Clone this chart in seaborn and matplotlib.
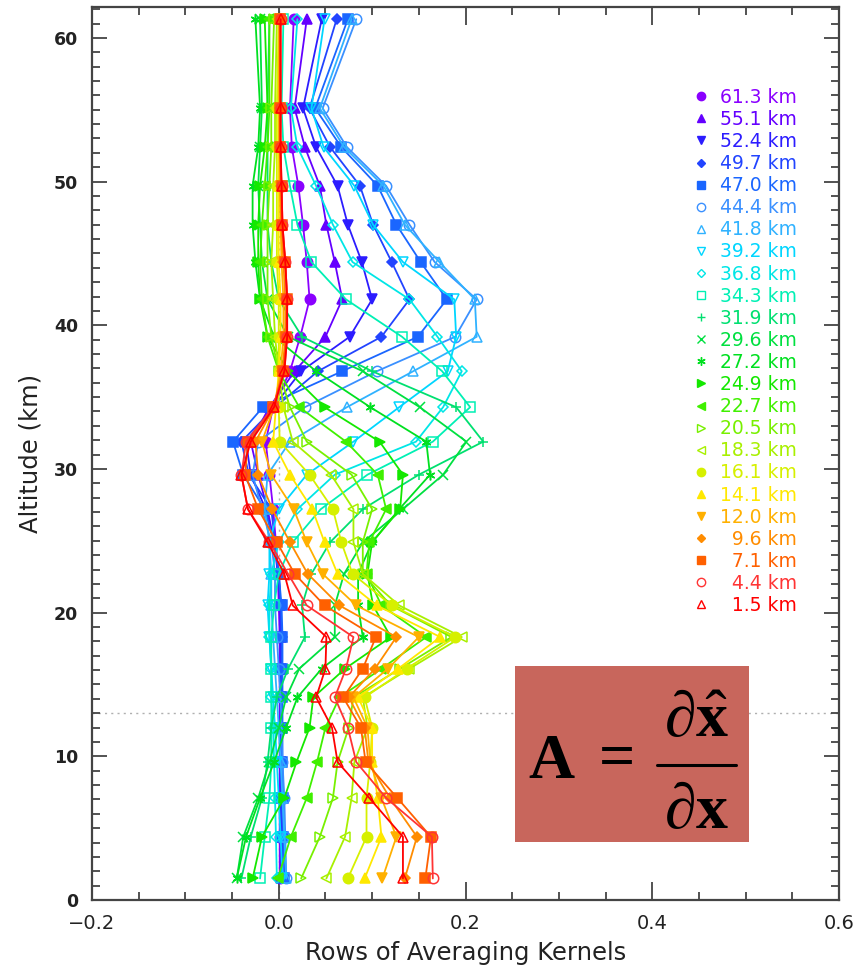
import matplotlib
matplotlib.use("Agg")
import matplotlib.pyplot as plt
from matplotlib import font_manager
from matplotlib.lines import Line2D
from matplotlib.patches import Rectangle
import seaborn as sns
import pandas as pd

# Retrieval levels (km), top to bottom
levels = [61.3, 55.1, 52.4, 49.7, 47.0, 44.4, 41.8, 39.2, 36.8, 34.3, 31.9, 29.6,
          27.2, 24.9, 22.7, 20.5, 18.3, 16.1, 14.1, 12.0, 9.6, 7.1, 4.4, 1.5]

# Rows of the averaging-kernel matrix, one per nominal altitude
k61_3 = [0.016, 0.012, 0.014, 0.021, 0.026, 0.030, 0.033, 0.023, 0.012, -0.006, -0.014, -0.010,
         -0.006, -0.003, -0.001, 0.000, 0.001, 0.001, 0.001, 0.001, 0.001, 0.001, 0.001, 0.001]
k55_1 = [0.030, 0.017, 0.028, 0.044, 0.051, 0.060, 0.068, 0.050, 0.017, -0.010, -0.030, -0.022,
         -0.012, -0.005, -0.001, 0.001, 0.002, 0.002, 0.002, 0.002, 0.002, 0.002, 0.002, 0.002]
k52_4 = [0.046, 0.026, 0.040, 0.063, 0.074, 0.089, 0.100, 0.076, 0.024, -0.006, -0.035, -0.030,
         -0.014, -0.005, 0.000, 0.002, 0.002, 0.002, 0.002, 0.002, 0.002, 0.002, 0.003, 0.003]
k49_7 = [0.062, 0.033, 0.055, 0.087, 0.101, 0.121, 0.140, 0.110, 0.042, -0.004, -0.040, -0.032,
         -0.008, -0.004, 0.000, 0.002, 0.003, 0.003, 0.003, 0.003, 0.003, 0.003, 0.004, 0.004]
k47_0 = [0.074, 0.039, 0.067, 0.106, 0.126, 0.152, 0.180, 0.149, 0.068, -0.017, -0.049, -0.038,
         -0.015, -0.005, 0.000, 0.003, 0.004, 0.004, 0.004, 0.004, 0.004, 0.005, 0.005, 0.006]
k44_4 = [0.083, 0.047, 0.073, 0.115, 0.140, 0.167, 0.212, 0.189, 0.105, 0.028, -0.022, -0.028,
         -0.018, -0.008, -0.004, -0.004, -0.002, 0.000, 0.002, 0.003, 0.004, 0.006, 0.007, 0.008]
k41_8 = [0.078, 0.044, 0.070, 0.112, 0.135, 0.172, 0.210, 0.212, 0.144, 0.073, 0.012, -0.012,
         -0.015, -0.010, -0.008, -0.008, -0.006, -0.004, -0.002, 0.000, 0.002, 0.004, 0.006, 0.008]
k39_2 = [0.049, 0.035, 0.048, 0.081, 0.101, 0.133, 0.188, 0.190, 0.181, 0.129, 0.080, 0.030,
         0.000, -0.010, -0.010, -0.012, -0.010, -0.008, -0.006, -0.004, -0.002, 0.000, 0.002, 0.004]
k36_8 = [0.020, 0.013, 0.020, 0.040, 0.058, 0.079, 0.140, 0.170, 0.196, 0.176, 0.147, 0.060,
         0.020, 0.000, -0.008, -0.010, -0.010, -0.008, -0.008, -0.006, -0.005, -0.004, -0.003, -0.002]
k34_3 = [0.005, 0.003, 0.005, 0.012, 0.020, 0.035, 0.072, 0.132, 0.175, 0.205, 0.165, 0.095,
         0.045, 0.015, 0.000, -0.005, -0.008, -0.008, -0.008, -0.008, -0.008, -0.010, -0.015, -0.020]
k31_9 = [-0.010, -0.012, -0.012, -0.012, -0.012, -0.008, 0.000, 0.025, 0.100, 0.190, 0.219, 0.150,
         0.090, 0.055, 0.035, 0.025, 0.028, 0.010, -0.002, -0.008, -0.012, -0.018, -0.030, -0.040]
k29_6 = [-0.020, -0.018, -0.020, -0.022, -0.020, -0.018, -0.012, 0.010, 0.090, 0.151, 0.201, 0.176,
         0.133, 0.090, 0.070, 0.060, 0.060, 0.022, 0.008, 0.000, -0.010, -0.022, -0.038, -0.045]
k27_2 = [-0.025, -0.020, -0.022, -0.028, -0.028, -0.025, -0.020, -0.005, 0.040, 0.098, 0.158, 0.162,
         0.129, 0.100, 0.085, 0.085, 0.090, 0.046, 0.020, 0.008, -0.005, -0.020, -0.035, -0.045]
k24_9 = [-0.015, -0.012, -0.015, -0.020, -0.022, -0.022, -0.020, -0.012, 0.010, 0.049, 0.108, 0.133,
         0.130, 0.100, 0.095, 0.101, 0.120, 0.071, 0.037, 0.033, 0.019, 0.006, -0.018, -0.028]
k22_7 = [-0.010, -0.010, -0.012, -0.015, -0.018, -0.020, -0.018, -0.012, 0.000, 0.022, 0.072, 0.106,
         0.115, 0.097, 0.094, 0.110, 0.158, 0.110, 0.065, 0.050, 0.041, 0.030, 0.013, -0.001]
k20_5 = [-0.005, -0.008, -0.008, -0.010, -0.012, -0.012, -0.012, -0.008, 0.000, 0.012, 0.030, 0.078,
         0.100, 0.090, 0.090, 0.120, 0.185, 0.130, 0.080, 0.075, 0.063, 0.058, 0.044, 0.024]
k18_3 = [-0.002, -0.004, -0.004, -0.006, -0.006, -0.008, -0.006, -0.004, 0.000, 0.005, 0.015, 0.056,
         0.080, 0.080, 0.090, 0.129, 0.196, 0.140, 0.090, 0.095, 0.081, 0.078, 0.071, 0.051]
k16_1 = [0.000, -0.002, -0.002, -0.002, -0.002, -0.002, 0.000, 0.000, 0.000, 0.000, 0.001, 0.033,
         0.058, 0.067, 0.079, 0.121, 0.189, 0.137, 0.092, 0.100, 0.098, 0.094, 0.094, 0.074]
k14_1 = [0.000, 0.000, 0.000, 0.000, 0.000, 0.000, 0.002, 0.002, 0.000, -0.003, -0.006, 0.012,
         0.036, 0.049, 0.063, 0.105, 0.173, 0.128, 0.085, 0.100, 0.100, 0.106, 0.110, 0.092]
k12_0 = [0.001, 0.001, 0.001, 0.001, 0.002, 0.003, 0.005, 0.005, 0.002, -0.005, -0.018, -0.008,
         0.016, 0.030, 0.047, 0.083, 0.150, 0.117, 0.080, 0.095, 0.098, 0.110, 0.126, 0.111]
k9_6 = [0.001, 0.001, 0.001, 0.002, 0.003, 0.005, 0.007, 0.007, 0.004, -0.005, -0.025, -0.022,
        -0.007, 0.012, 0.031, 0.065, 0.126, 0.103, 0.075, 0.092, 0.096, 0.119, 0.148, 0.135]
k7_1 = [0.001, 0.001, 0.001, 0.003, 0.003, 0.007, 0.009, 0.008, 0.005, -0.006, -0.033, -0.036,
        -0.022, -0.002, 0.017, 0.049, 0.104, 0.090, 0.069, 0.088, 0.093, 0.127, 0.163, 0.157]
k4_4 = [0.002, 0.002, 0.002, 0.003, 0.004, 0.007, 0.009, 0.009, 0.006, -0.006, -0.035, -0.040,
        -0.033, -0.010, 0.010, 0.030, 0.080, 0.072, 0.060, 0.074, 0.083, 0.115, 0.164, 0.165]
k1_5 = [0.002, 0.002, 0.002, 0.003, 0.004, 0.007, 0.009, 0.009, 0.006, -0.005, -0.030, -0.040,
        -0.033, -0.012, 0.006, 0.015, 0.051, 0.050, 0.040, 0.057, 0.063, 0.097, 0.133, 0.133]

kernel_rows = [k61_3, k55_1, k52_4, k49_7, k47_0, k44_4, k41_8, k39_2, k36_8, k34_3, k31_9, k29_6,
               k27_2, k24_9, k22_7, k20_5, k18_3, k16_1, k14_1, k12_0, k9_6, k7_1, k4_4, k1_5]

row_labels = ["61.3 km", "55.1 km", "52.4 km", "49.7 km", "47.0 km", "44.4 km", "41.8 km",
              "39.2 km", "36.8 km", "34.3 km", "31.9 km", "29.6 km", "27.2 km", "24.9 km",
              "22.7 km", "20.5 km", "18.3 km", "16.1 km", "14.1 km", "12.0 km", "9.6 km",
              "7.1 km", "4.4 km", "1.5 km"]

row_colors = ["#8a00ff", "#6400ff", "#2c1cff", "#2244ff", "#1a66ff", "#3a90ff", "#30b2ff",
              "#00d6ff", "#00e6e6", "#00f0b4", "#00e070", "#00e040", "#00e020", "#14e800",
              "#40f000", "#78f000", "#a8f000", "#d6f000", "#ffe800", "#ffb000", "#ff8c00",
              "#ff6000", "#ff3434", "#ff0000"]

# IDL-style plotting symbols: (marker, filled)
asterisk = (6, 2, 0)
row_markers = [("o", True), ("^", True), ("v", True), ("D", True), ("s", True),
               ("o", False), ("^", False), ("v", False), ("D", False), ("s", False),
               ("+", True), ("x", True), (asterisk, True), (">", True), ("<", True),
               (">", False), ("<", False), ("o", True), ("^", True), ("v", True),
               ("D", True), ("s", True), ("o", False), ("^", False)]

installed = {f.name for f in font_manager.fontManager.ttflist}
narrow = "Liberation Sans Narrow" if "Liberation Sans Narrow" in installed else "DejaVu Sans"
serif = "Liberation Serif" if "Liberation Serif" in installed else "DejaVu Serif"

sns.set_theme(style="ticks")
plt.rcParams["font.family"] = ["DejaVu Sans"]
plt.rcParams["mathtext.fontset"] = "custom"
plt.rcParams["mathtext.rm"] = serif
plt.rcParams["mathtext.bf"] = serif + ":bold"
plt.rcParams["mathtext.it"] = serif + ":italic"

fig = plt.figure(figsize=(8.57, 9.68), dpi=100)
ax = fig.add_axes([92 / 857, 1 - 900 / 968, (839 - 92) / 857, (900 - 7) / 968])

ax.axhline(13.0, color="#b0b0b0", lw=1.0, ls=(0, (1.5, 3)), zorder=0.5)
ax.axvline(0.0, color="#b0b0b0", lw=1.0, ls=(0, (1.5, 3)), zorder=0.5)

for vals, col, (mk, filled) in zip(kernel_rows, row_colors, row_markers):
    df = pd.DataFrame({"value": vals, "alt": levels})
    sz = 7.5 if mk in ("s", "o") else 7
    if mk == "D":
        sz = 5.5
    sns.lineplot(data=df, x="value", y="alt", sort=False, estimator=None, ax=ax,
                 color=col, lw=1.3, marker=mk, markersize=sz,
                 markerfacecolor=col if filled else "none",
                 markeredgecolor=col, markeredgewidth=1.1)

ax.set_xlim(-0.2, 0.6)
ax.set_ylim(0, 62.15)
ax.set_xticks([-0.2, 0.0, 0.2, 0.4, 0.6])
ax.set_xticklabels(["\u22120.2", "0.0", "0.2", "0.4", "0.6"])
ax.set_yticks([0, 10, 20, 30, 40, 50, 60])
ax.set_xticks([x / 100 for x in range(-20, 61, 5)], minor=True)
ax.set_yticks(list(range(0, 63)), minor=True)
ax.tick_params(which="both", direction="in", top=True, right=True, color="#444444", width=1.3)
ax.tick_params(which="major", length=13)
ax.tick_params(which="minor", length=6)
ax.tick_params(axis="x", which="major", labelsize=14, pad=10, labelcolor="#222222")
ax.tick_params(axis="y", which="major", length=11, labelsize=12.5, pad=10, labelcolor="#222222")
for lab in ax.get_yticklabels():
    lab.set_fontweight("bold")
for sp in ax.spines.values():
    sp.set_color("#444444")
    sp.set_linewidth(1.6)

ax.set_xlabel("Rows of Averaging Kernels", fontsize=17.5, family=narrow, color="#222222", labelpad=6)
ax.set_ylabel("Altitude (km)", fontsize=17.5, family=narrow, color="#222222", labelpad=8)

# Key: one symbol per kernel row, text coloured like the curve
handles = []
for col, (mk, filled) in zip(row_colors, row_markers):
    sz = 6 if mk not in ("D",) else 4.5
    handles.append(Line2D([], [], ls="none", marker=mk, markersize=sz, color=col,
                          markerfacecolor=col if filled else "none",
                          markeredgecolor=col, markeredgewidth=1.0))
labels = [("\u2007" + t) if len(t) == 6 else t for t in row_labels]
ax.legend(handles, labels, loc="upper left", bbox_to_anchor=(0.805, 0.9095),
          frameon=False, fontsize=13.5, labelcolor=row_colors, handlelength=0.8,
          handletextpad=0.6, labelspacing=0.165, borderpad=0, borderaxespad=0)

# Definition of the averaging kernel
fig.patches.append(Rectangle((515 / 857, 1 - 842 / 968), 234 / 857, 176 / 968,
                             transform=fig.transFigure, facecolor="#c8665c",
                             edgecolor="none", zorder=5))
eq_size = 46
fig.text(552 / 857, 1 - 760 / 968, r"$\mathbf{A}$", fontsize=eq_size,
         ha="center", va="center", color="black", zorder=6)
fig.text(617 / 857, 1 - 762 / 968, "=", fontsize=eq_size, family=serif, weight="bold",
         ha="center", va="center", color="black", zorder=6)
fig.text(697 / 857, 1 - 718 / 968, r"$\mathbf{\partial}\hat{\mathbf{x}}$", fontsize=eq_size,
         ha="center", va="center", color="black", zorder=6)
fig.text(697 / 857, 1 - 810 / 968, r"$\mathbf{\partial x}$", fontsize=eq_size,
         ha="center", va="center", color="black", zorder=6)
fig.lines.append(Line2D([657 / 857, 736 / 857], [1 - 765 / 968, 1 - 765 / 968],
                        transform=fig.transFigure, color="black", lw=2.2, zorder=6))

fig.savefig("out.png", dpi=100)
